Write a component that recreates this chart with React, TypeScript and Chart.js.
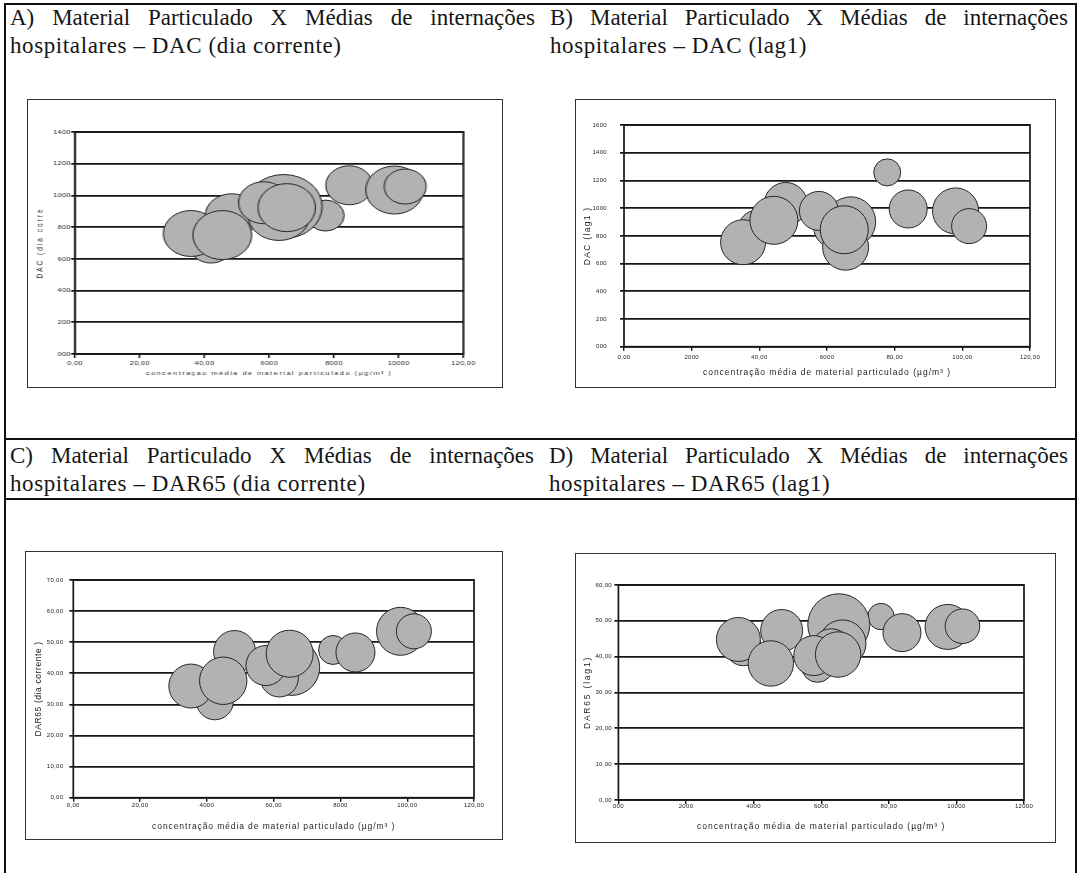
import React, { useEffect, useRef } from "react";
import { Chart, registerables } from "chart.js";

Chart.register(...registerables);

// ---------------- data ----------------
// A) DAC (dia corrente)
const xTicksA = ["0,00", "20,00", "40,00", "6000", "8000", "10000", "120,00"];
const yTicksA = ["000", "200", "400", "600", "800", "1000", "1200", "1400"];
const aX = [42, 35.8, 48.4, 77.4, 64.5, 63, 58.3, 45.5, 65.4, 84.7, 98.7, 102];
const aY = [687, 760, 872, 873, 930, 880, 954, 750, 923, 1064, 1034, 1056];
const aSize = [18, 23, 22, 15.5, 32, 26, 21, 24.5, 24, 19.5, 24, 17.5];

// B) DAC (lag1)
const xTicksB = ["0,00", "2000", "40,00", "6000", "80,00", "100,00", "120,00"];
const yTicksB = ["000", "200", "400", "600", "800", "1000", "1200", "1400", "1600"];
const bX = [39, 35.2, 47.8, 44.3, 62, 67, 65.5, 57.6, 65.1, 77.8, 84, 98, 102];
const bY = [860, 754, 1030, 912, 860, 901, 718, 980, 844, 1258, 994, 980, 870];
const bSize = [17, 22.5, 21.5, 24, 20, 25, 23, 19.5, 24, 13.5, 19, 23, 17.5];

// C) DAR65 (dia corrente)
const xTicksC = ["0,00", "20,00", "4000", "60,00", "8000", "100,00", "120,00"];
const yTicksC = ["0,00", "10,00", "20,00", "30,00", "40,00", "50,00", "60,00", "70,00"];
const cX = [42.4, 35.2, 48.3, 44.9, 77.8, 84.5, 65.4, 61.7, 57.7, 64.8, 98, 102];
const cY = [31, 35.9, 47, 37.6, 47.5, 46.7, 41.9, 38.5, 42.5, 46.3, 53.5, 53.5];
const cSize = [18.5, 22, 21, 23.7, 14.5, 19.5, 28, 19, 20, 23.5, 24, 17.5];

// D) DAR65 (lag1)
const xTicksD = ["000", "2000", "4000", "6000", "80,00", "10000", "12000"];
const yTicksD = ["0,00", "10,00", "20,00", "30,00", "40,00", "50,00", "60,00"];
const dX = [37, 35.5, 48.3, 45.1, 77.7, 65.2, 83.9, 66.3, 63, 58.9, 57.8, 65, 97.4, 101.8];
const dY = [42.5, 44.8, 47.3, 38.1, 51.2, 48.9, 46.7, 43.7, 42.2, 37.3, 40.3, 40.6, 48.3, 48.5];
const dSize = [18, 22, 21, 22.7, 13.2, 31, 19, 23.5, 20, 16, 20, 22.7, 22.5, 17.3];

const X_TITLE = "concentração média de material particulado (µg/m³ )";
const X_TITLE_A = "concentraçao média de material particulado (µg/m³ )";

const titles = {
  a1: "A) Material Particulado X Médias de internações",
  a2: "hospitalares – DAC (dia corrente)",
  b1: "B) Material Particulado X Médias de internações",
  b2: "hospitalares – DAC (lag1)",
  c1: "C) Material Particulado X Médias de internações",
  c2: "hospitalares – DAR65 (dia corrente)",
  d1: "D) Material Particulado X Médias de internações",
  d2: "hospitalares – DAR65 (lag1)",
};

// ---------------- styles ----------------
const SANS = "'Liberation Sans', Arial, sans-serif";
const SERIF = "'Liberation Serif', 'Times New Roman', serif";
const FILL = "#b2b2b2";
const EDGE = "#262626";
const LINE = "#161616";

type Panel = {
  frame: [number, number, number, number];
  sx: number;
  plot: [number, number, number, number];
  yMax: number;
  yStep: number;
  xLabels: string[];
  yLabels: string[];
  xs: number[];
  ys: number[];
  sizes: number[];
  xTitle: string;
  yTitle: string;
  xTitleY: number;
  yTitleX: number;
  xLabelGap: number;
  yLabelGap: number;
  tickSize: number;
  tickLS: number;
  xTitleSize: number;
  xTitleLS: number;
  yTitleSize: number;
  yTitleLS: number;
};

const panels: Panel[] = [
  {
    frame: [27, 99, 476, 289], sx: 1.2, plot: [75, 109, 483, 354],
    yMax: 1400, yStep: 200, xLabels: xTicksA, yLabels: yTicksA,
    xs: aX, ys: aY, sizes: aSize,
    xTitle: X_TITLE_A, yTitle: "DAC (dia corre",
    xTitleY: 373, yTitleX: 40.7, xLabelGap: 9, yLabelGap: 4.3,
    tickSize: 6, tickLS: 0.3, xTitleSize: 6, xTitleLS: 1.3, yTitleSize: 6.5, yTitleLS: 2,
  },
  {
    frame: [575, 99, 481, 289], sx: 1, plot: [624, 111.3, 1034.3, 346.7],
    yMax: 1600, yStep: 200, xLabels: xTicksB, yLabels: yTicksB,
    xs: bX, ys: bY, sizes: bSize,
    xTitle: X_TITLE, yTitle: "DAC (lag1 )",
    xTitleY: 373, yTitleX: 588, xLabelGap: 10.3, yLabelGap: 17,
    tickSize: 6, tickLS: 0.3, xTitleSize: 8.5, xTitleLS: 1.0, yTitleSize: 8.5, yTitleLS: 1.3,
  },
  {
    frame: [25, 551, 478, 289], sx: 1, plot: [73.3, 561.7, 485.7, 797.7],
    yMax: 70, yStep: 10, xLabels: xTicksC, yLabels: yTicksC,
    xs: cX, ys: cY, sizes: cSize,
    xTitle: X_TITLE, yTitle: "DAR65 (dia corrente )",
    xTitleY: 826.5, yTitleX: 39, xLabelGap: 8, yLabelGap: 10,
    tickSize: 6, tickLS: 0.3, xTitleSize: 8.5, xTitleLS: 0.9, yTitleSize: 8.5, yTitleLS: 0.6,
  },
  {
    frame: [575, 553, 481, 290], sx: 1, plot: [618.4, 561.7, 1037.4, 800],
    yMax: 60, yStep: 10, xLabels: xTicksD, yLabels: yTicksD,
    xs: dX, ys: dY, sizes: dSize,
    xTitle: X_TITLE, yTitle: "DAR65 (lag1)",
    xTitleY: 826.7, yTitleX: 588, xLabelGap: 6.7, yLabelGap: 6.4,
    tickSize: 6, tickLS: 0.3, xTitleSize: 8.5, xTitleLS: 1.0, yTitleSize: 8.5, yTitleLS: 1.8,
  },
];

const plotFrame = {
  id: "plotFrame",
  beforeDatasetsDraw(chart: any) {
    const { ctx, chartArea: a } = chart;
    ctx.save();
    ctx.strokeStyle = LINE;
    ctx.lineWidth = 1.7;
    ctx.strokeRect(a.left, a.top, a.right - a.left, a.bottom - a.top);
    ctx.restore();
  },
};

function wrapSpacing(axis: any, titleLS: number, tickLS: number) {
  if (axis.__spaced) return;
  axis.__spaced = true;
  const dt = axis.drawTitle.bind(axis);
  axis.drawTitle = (...args: any[]) => {
    const c = axis.ctx;
    const prev = c.letterSpacing;
    c.letterSpacing = titleLS + "px";
    dt(...args);
    c.letterSpacing = prev || "0px";
  };
  const dl = axis.drawLabels.bind(axis);
  axis.drawLabels = (...args: any[]) => {
    const c = axis.ctx;
    const prev = c.letterSpacing;
    c.letterSpacing = tickLS + "px";
    dl(...args);
    c.letterSpacing = prev || "0px";
  };
}

function BubblePanel({ p }: { p: Panel }) {
  const ref = useRef<HTMLCanvasElement>(null);
  const [fx, fy, fw, fh] = p.frame;
  const cw = Math.round(fw / p.sx);
  const ch = Math.round(fh);

  useEffect(() => {
    if (!ref.current) return;
    const sx = fw / cw;
    const toCx = (x: number) => (x - fx) / sx;
    const cl = toCx(p.plot[0]);
    const cr = toCx(p.plot[2]);
    const ct = p.plot[1] - fy;
    const cb = p.plot[3] - fy;
    const yTickLen = 4 / sx;
    const xTickLen = 4;
    const tickLH = p.tickSize * 1.2;
    const xLH = p.xTitleSize * 1.2;
    const yLH = p.yTitleSize * 1.2;
    const xPad = p.xLabelGap - xTickLen - tickLH / 2;
    const yPad = p.yLabelGap / sx - yTickLen;
    const xTitlePad = ch - (p.xTitleY - fy) - xLH / 2;
    const yTitlePad = toCx(p.yTitleX) - yLH / 2;
    const tickFont = { family: SANS, size: p.tickSize };

    const chart = new Chart(ref.current, {
      type: "bubble",
      data: {
        datasets: [
          {
            data: p.xs.map((x, i) => ({ x, y: p.ys[i], r: p.sizes[i] })),
            backgroundColor: FILL,
            borderColor: EDGE,
            borderWidth: 1,
          },
        ],
      },
      options: {
        responsive: false,
        animation: false,
        devicePixelRatio: 1,
        events: [],
        layout: { padding: { left: 0, top: ct, right: cw - cr, bottom: 0 } },
        plugins: { legend: { display: false }, tooltip: { enabled: false } },
        scales: {
          x: {
            type: "linear",
            min: 0,
            max: 120,
            ticks: {
              stepSize: 20,
              autoSkip: false,
              maxRotation: 0,
              padding: xPad,
              color: "#222",
              font: tickFont,
              callback: (v: any) => p.xLabels[Math.round(Number(v) / 20)],
            },
            grid: { drawOnChartArea: false, drawTicks: true, tickLength: xTickLen, color: LINE, lineWidth: 1.4 },
            border: { display: false },
            title: {
              display: true,
              text: p.xTitle,
              color: "#1e1e1e",
              font: { family: SANS, size: p.xTitleSize },
              padding: { top: 0, bottom: xTitlePad },
            },
            afterFit: (axis: any) => {
              axis.height = ch - cb;
              wrapSpacing(axis, p.xTitleLS, p.tickLS);
            },
          },
          y: {
            type: "linear",
            min: 0,
            max: p.yMax,
            ticks: {
              stepSize: p.yStep,
              autoSkip: false,
              padding: yPad,
              color: "#222",
              font: tickFont,
              callback: (v: any) => p.yLabels[Math.round(Number(v) / p.yStep)],
            },
            grid: { drawTicks: true, tickLength: yTickLen, color: LINE, lineWidth: 1.7 },
            border: { display: false },
            title: {
              display: true,
              text: p.yTitle,
              color: "#1e1e1e",
              font: { family: SANS, size: p.yTitleSize },
              padding: { top: yTitlePad, bottom: 0 },
            },
            afterFit: (axis: any) => {
              axis.width = cl;
              wrapSpacing(axis, p.yTitleLS, p.tickLS);
            },
          },
        },
      } as any,
      plugins: [plotFrame],
    });
    return () => chart.destroy();
  }, []);

  return (
    <div style={{ position: "absolute", left: fx, top: fy, width: fw, height: fh, background: "#fff" }}>
      <canvas
        ref={ref}
        width={cw}
        height={ch}
        style={{ position: "absolute", left: 0, top: 0, width: fw + "px", height: fh + "px" }}
      />
      <div
        style={{
          position: "absolute",
          left: 0,
          top: 0,
          width: fw,
          height: fh,
          border: "1.5px solid #333",
          boxSizing: "border-box",
          pointerEvents: "none",
        }}
      />
    </div>
  );
}

function Title({ left, top, width, l1, l2 }: { left: number; top: number; width: number; l1: string; l2: string }) {
  return (
    <div
      style={{
        position: "absolute",
        left,
        top,
        width,
        fontFamily: SERIF,
        fontSize: 23,
        lineHeight: "27.5px",
        color: "#161616",
      }}
    >
      <div style={{ textAlign: "justify", textAlignLast: "justify" as any }}>{l1}</div>
      <div style={{ letterSpacing: "0.6px", whiteSpace: "nowrap" }}>{l2}</div>
    </div>
  );
}

function HLine({ x, y, w }: { x: number; y: number; w: number }) {
  return <div style={{ position: "absolute", left: x, top: y, width: w, height: 2, background: "#111" }} />;
}
function VLine({ x, y, h }: { x: number; y: number; h: number }) {
  return <div style={{ position: "absolute", left: x, top: y, width: 2, height: h, background: "#111" }} />;
}

export default function App() {
  return (
    <div
      style={{
        position: "fixed",
        left: 0,
        top: 0,
        width: 1079,
        height: 873,
        background: "#fff",
        overflow: "hidden",
      }}
    >
      <VLine x={4} y={3} h={870} />
      <VLine x={1075} y={3} h={870} />
      <HLine x={4} y={3} w={1073} />
      <HLine x={4} y={437.5} w={1073} />
      <HLine x={4} y={498} w={1073} />

      <Title left={10} top={4} width={525} l1={titles.a1} l2={titles.a2} />
      <Title left={550} top={4} width={518} l1={titles.b1} l2={titles.b2} />
      <Title left={10} top={442.3} width={524} l1={titles.c1} l2={titles.c2} />
      <Title left={549} top={442.3} width={519} l1={titles.d1} l2={titles.d2} />

      {panels.map((p, i) => (
        <BubblePanel key={i} p={p} />
      ))}
    </div>
  );
}
